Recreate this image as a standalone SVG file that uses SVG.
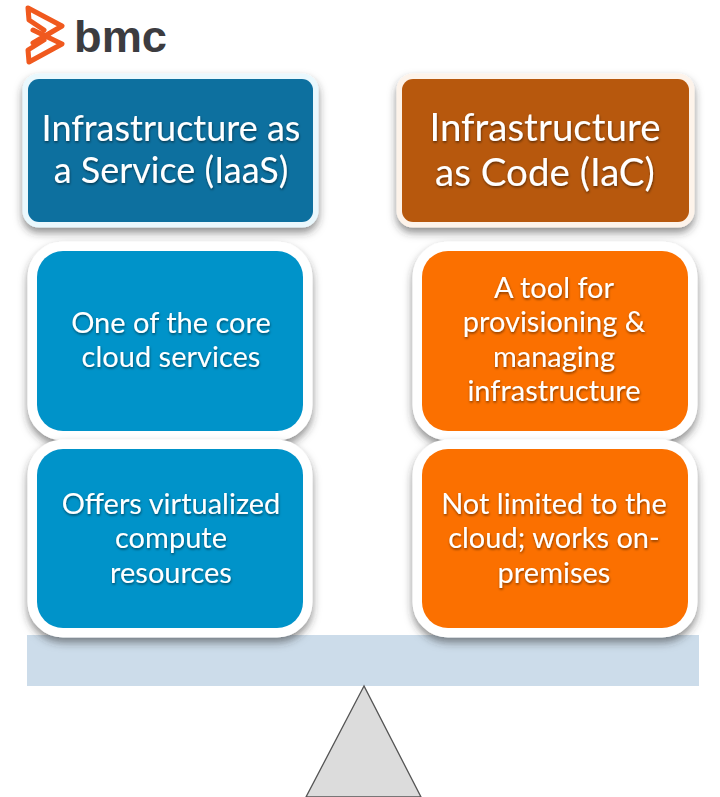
<svg xmlns="http://www.w3.org/2000/svg" width="720" height="797" viewBox="0 0 720 797">
<style>
text{font-family:"Lato","Open Sans","Liberation Sans",sans-serif;fill:#fff;text-anchor:middle}
.h{font-size:36px}.hr{font-size:38.5px}.b{font-size:29px}
.hb{stroke-width:11;paint-order:stroke;filter:url(#s)}
.bb{stroke:#fff;stroke-width:19;paint-order:stroke;filter:url(#s)}
</style>
<defs>
<filter id="s" x="-10%" y="-10%" width="120%" height="125%"><feDropShadow dx="0" dy="5" stdDeviation="4" flood-color="#333" flood-opacity=".55"/></filter>
<filter id="t" x="-5%" y="-10%" width="110%" height="130%"><feDropShadow dx="0.5" dy="1.5" stdDeviation="1" flood-color="#000" flood-opacity=".5"/></filter>
</defs>
<rect width="720" height="797" fill="#fff"/>
<g id="logo">
<path d="M44 30 L29 20 L28 8 L62 26 L33 43 M33 30 L62 44 L29 62 L28 50 L44 40" fill="none" stroke="#f0591e" stroke-width="5" stroke-linejoin="round" stroke-linecap="round"/>
<text x="120.500" y="52" style="font-family:'Liberation Sans',sans-serif;font-weight:700;fill:#3c3c40;font-size:45px" textLength="93" lengthAdjust="spacingAndGlyphs">bmc</text>
</g>
<g id="beam"><rect x="27" y="635" width="672" height="51" fill="#ccdcea"/></g>
<g id="fulcrum"><path d="M364 686 L306 797 L421 797 Z" fill="#dcdcdc" stroke="#555" stroke-width="1.3"/></g>
<g id="iaas-header"><rect class="hb" x="28" y="79" width="285" height="143" rx="11" fill="#106f9f" stroke="#eaf8fd"/>
<text class="h" x="171" y="141" filter="url(#t)">Infrastructure as</text><text class="h" x="171" y="183" filter="url(#t)">a Service (IaaS)</text></g>
<g id="iac-header"><rect class="hb" x="402" y="79" width="287" height="143" rx="11" fill="#b7590f" stroke="#fdf3ea"/>
<text class="hr" x="545" y="141" filter="url(#t)">Infrastructure</text><text class="hr" x="545" y="186" filter="url(#t)">as Code (IaC)</text></g>
<g id="iaas-core"><rect class="bb" x="37" y="251" width="266" height="180" rx="26" fill="#0393c9"/>
<text class="b" x="171" y="333" filter="url(#t)">One of the core</text><text class="b" x="171" y="367" filter="url(#t)">cloud services</text></g>
<g id="iac-tool"><rect class="bb" x="422" y="251" width="266" height="180" rx="26" fill="#fb7000"/>
<text class="b" x="554" y="298" filter="url(#t)">A tool for</text><text class="b" x="554" y="332" filter="url(#t)">provisioning &amp;</text><text class="b" x="554" y="367" filter="url(#t)">managing</text><text class="b" x="554" y="401" filter="url(#t)">infrastructure</text></g>
<g id="iaas-compute"><rect class="bb" x="37" y="449" width="266" height="179" rx="26" fill="#0393c9"/>
<text class="b" x="171" y="514" filter="url(#t)">Offers virtualized</text><text class="b" x="171" y="548" filter="url(#t)">compute</text><text class="b" x="171" y="583" filter="url(#t)">resources</text></g>
<g id="iac-onprem"><rect class="bb" x="422" y="449" width="266" height="179" rx="26" fill="#fb7000"/>
<text class="b" x="554" y="514" filter="url(#t)">Not limited to the</text><text class="b" x="554" y="548" filter="url(#t)">cloud; works on-</text><text class="b" x="554" y="583" filter="url(#t)">premises</text></g>
<g id="connectors"/>
</svg>
